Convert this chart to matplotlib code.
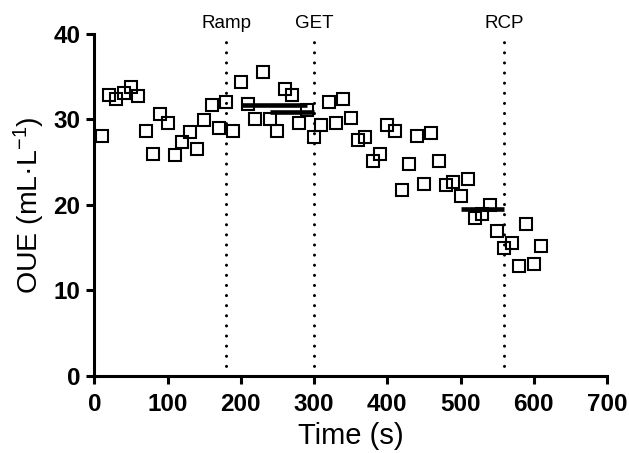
import matplotlib
matplotlib.use("Agg")
import matplotlib.pyplot as plt
import numpy as np

plt.rcParams['font.family'] = ['Liberation Sans', 'DejaVu Sans']
plt.rcParams['mathtext.fontset'] = 'custom'
plt.rcParams['mathtext.rm'] = 'Liberation Sans'
plt.rcParams['mathtext.default'] = 'regular'

# Data
time_s = [10, 20, 30, 40, 50, 60, 70, 80, 90, 100,
          110, 120, 130, 140, 150, 160, 170, 180, 190, 200,
          210, 220, 230, 240, 250, 260, 270, 280, 290, 300,
          310, 320, 330, 340, 350, 360, 370, 380, 390, 400,
          410, 420, 430, 440, 450, 460, 470, 480, 490, 500,
          510, 520, 530, 540, 550, 560, 570, 580, 590, 600, 610]
oue = [28.1, 32.9, 32.4, 33.1, 33.8, 32.7, 28.7, 26.0, 30.6, 29.6,
       25.9, 27.4, 28.5, 26.5, 29.9, 31.7, 29.0, 32.0, 28.7, 34.4,
       31.8, 30.1, 35.6, 30.1, 28.7, 33.6, 32.9, 29.6, 31.1, 28.0,
       29.3, 32.1, 29.6, 32.4, 30.2, 27.6, 27.9, 25.1, 26.0, 29.4,
       28.7, 21.8, 24.8, 28.1, 22.5, 28.4, 25.2, 22.3, 22.7, 21.1,
       23.0, 18.5, 19.0, 20.0, 16.9, 15.0, 15.5, 12.9, 17.8, 13.1, 15.2]

event_names = ["Ramp", "GET", "RCP"]
event_times = [180, 300, 560]

mean_starts = [200, 240, 500]
mean_ends = [290, 300, 560]
mean_values = [31.7, 30.9, 19.5]

x_ticks = [0, 100, 200, 300, 400, 500, 600, 700]
y_ticks = [0, 10, 20, 30, 40]

fig = plt.figure(figsize=(6.29, 4.53), dpi=100)
ax = fig.add_axes([0.150, 0.170, 0.815, 0.755])

for t in event_times:
    ax.plot([t, t], [0, 40], color='black', lw=2.2,
            linestyle=(0, (0.01, 3.3)), dash_capstyle='round',
            clip_on=False, zorder=2)

for name, t in zip(event_names, event_times):
    ax.text(t, 40.75, name, ha='center', va='baseline', fontsize=13.5)

for s, e, v in zip(mean_starts, mean_ends, mean_values):
    ax.plot([s, e], [v, v], color='black', lw=3.3, solid_capstyle='butt',
            zorder=4)

ax.plot(time_s, oue, linestyle='none', marker='s', markersize=8.5,
        markerfacecolor='none', markeredgecolor='black',
        markeredgewidth=1.5, clip_on=False, zorder=3)

ax.set_xlim(0, 700)
ax.set_ylim(0, 40)
ax.set_xticks(x_ticks)
ax.set_yticks(y_ticks)

for sp in ['top', 'right']:
    ax.spines[sp].set_visible(False)
for sp in ['left', 'bottom']:
    ax.spines[sp].set_linewidth(2.2)

ax.tick_params(axis='both', direction='out', length=6, width=2.2,
               labelsize=17.5)
ax.tick_params(axis='x', pad=6.5)
ax.tick_params(axis='y', pad=4)
for lab in ax.get_xticklabels() + ax.get_yticklabels():
    lab.set_fontweight('bold')

ax.set_xlabel('Time (s)', fontsize=21, labelpad=4)
ax.set_ylabel('OUE (mL\u00b7L$^{-1}$)', fontsize=20.5, labelpad=5)

fig.savefig('out.png', dpi=100)
